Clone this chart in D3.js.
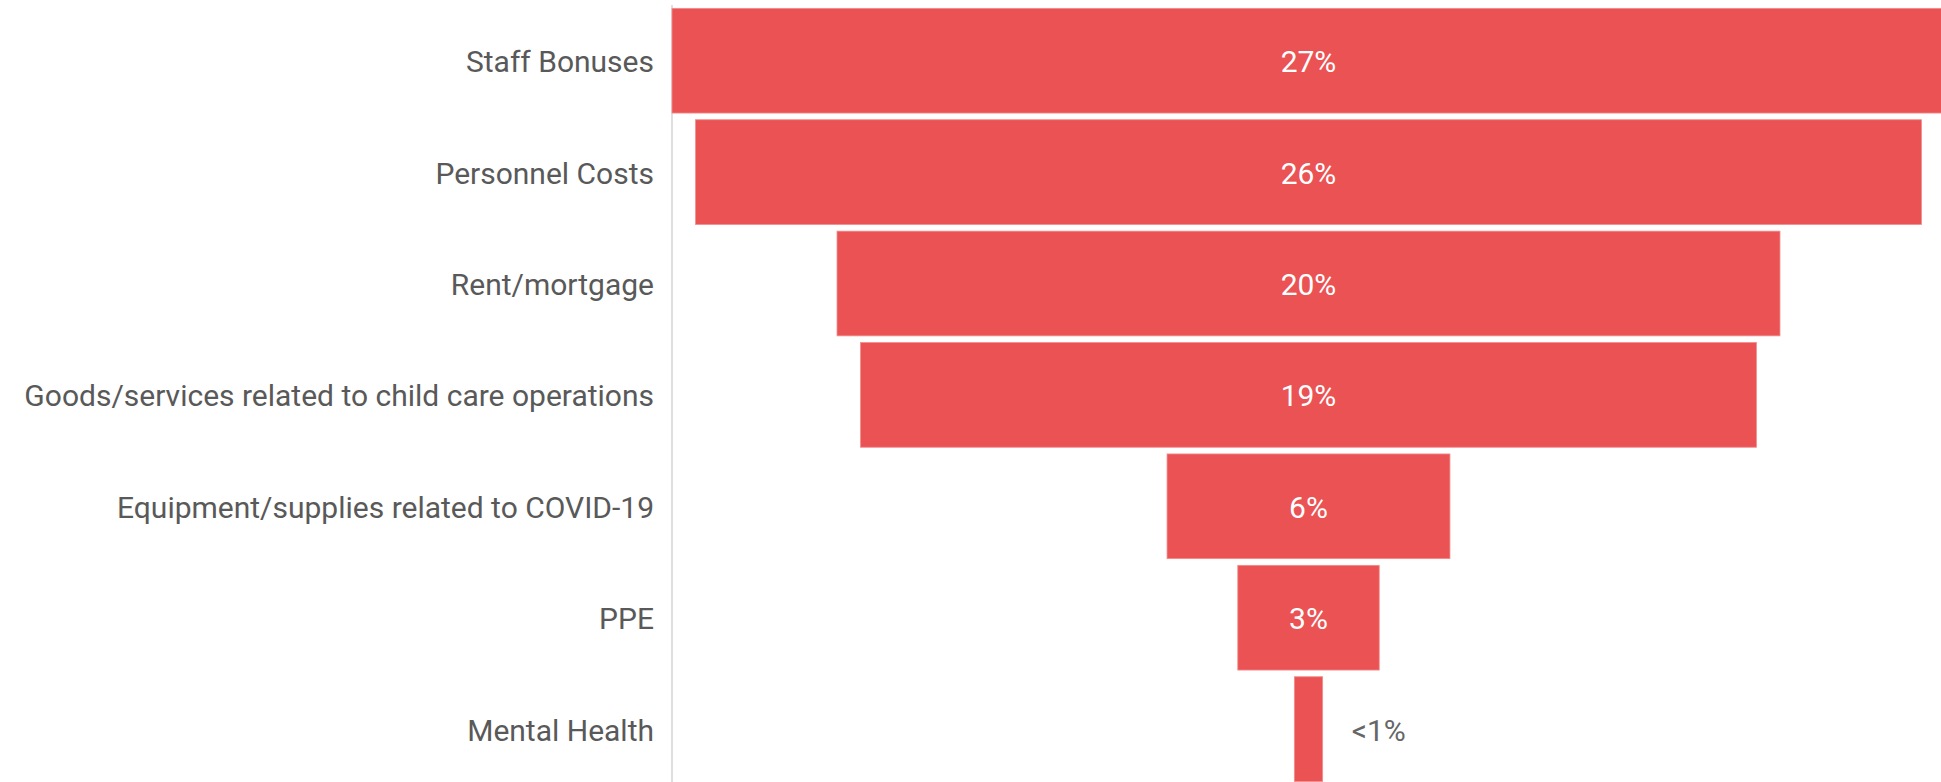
<!DOCTYPE html>
<html>
<head>
<meta charset="utf-8">
<script src="https://cdn.jsdelivr.net/npm/d3@7"></script>
<style>
    html, body { margin: 0; padding: 0; background: #fff; overflow: hidden; }
    svg { display: block; }
</style>
</head>
<body>
<div id="chart"></div>
<script>
var categories = [
    'Staff Bonuses',
    'Personnel Costs',
    'Rent/mortgage',
    'Goods/services related to child care operations',
    'Equipment/supplies related to COVID-19',
    'PPE',
    'Mental Health'
];
var values = [27, 26, 20, 19, 6, 3, 0.6];
var valueLabels = ['27%', '26%', '20%', '19%', '6%', '3%', '<1%'];

var svg_width = 1941;
var svg_height = 782;
var axis_x = 672;
var center_x = 1308.5;

var svg = d3.select('#chart').append('svg')
    .attr('width', svg_width)
    .attr('height', svg_height);

var y = d3.scaleBand()
    .domain(categories)
    .range([5, 784.8])
    .paddingInner(0.06)
    .paddingOuter(0.03);

// bar width is proportional to the value, bars centred on one line
var w = d3.scaleLinear()
    .domain([0, 27])
    .range([0, 2 * (center_x - axis_x)]);

var data = categories.map(function(c, i) {
    return { name: c, value: values[i], label: valueLabels[i] };
});

// left axis line
svg.append('line')
    .attr('x1', axis_x).attr('x2', axis_x)
    .attr('y1', 5).attr('y2', svg_height)
    .style('stroke', '#d4d4d4')
    .style('stroke-width', 1.5);

svg.selectAll('.bar')
    .data(data)
    .enter()
    .append('rect')
    .attr('class', 'bar')
    .attr('x', function(d) { return center_x - w(d.value) / 2; })
    .attr('y', function(d) { return y(d.name); })
    .attr('width', function(d) { return w(d.value); })
    .attr('height', y.bandwidth())
    .style('fill', '#eb5254')
    .style('stroke', '#f28c8c')
    .style('stroke-width', 0.8);

svg.selectAll('.cat')
    .data(data)
    .enter()
    .append('text')
    .attr('class', 'cat')
    .attr('x', axis_x - 18)
    .attr('y', function(d) { return y(d.name) + y.bandwidth() / 2; })
    .attr('dy', '0.38em')
    .attr('text-anchor', 'end')
    .style('font-family', 'Roboto, sans-serif')
    .style('font-size', '30px')
    .style('fill', '#595959')
    .text(function(d) { return d.name; });

svg.selectAll('.val')
    .data(data)
    .enter()
    .append('text')
    .attr('class', 'val')
    .attr('x', function(d) {
        return d.value < 1 ? center_x + w(d.value) / 2 + 29 : center_x;
    })
    .attr('y', function(d) { return y(d.name) + y.bandwidth() / 2; })
    .attr('dy', '0.38em')
    .attr('text-anchor', function(d) { return d.value < 1 ? 'start' : 'middle'; })
    .style('font-family', 'Roboto, sans-serif')
    .style('font-size', '30px')
    .style('fill', function(d) { return d.value < 1 ? '#666666' : '#ffffff'; })
    .text(function(d) { return d.label; });
</script>
</body>
</html>
